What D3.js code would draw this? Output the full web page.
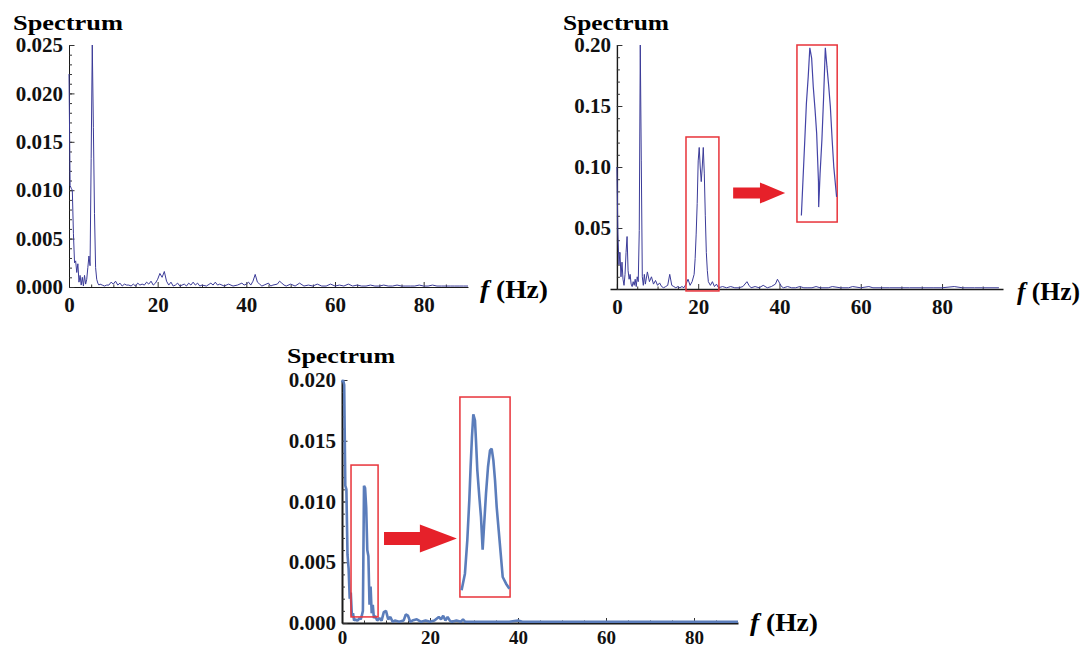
<!DOCTYPE html>
<html>
<head>
<meta charset="utf-8">
<script src="https://cdn.jsdelivr.net/npm/d3@7"></script>
<style>
  body { margin: 0; background: #fff; }
  text { font-family: "Liberation Serif", "Times New Roman", serif; font-weight: bold; }
</style>
</head>
<body>
<svg id="chart" width="1088" height="650"></svg>
<script>
// spectrum 1 : [f (Hz), amplitude]
var spec1 = [[0,0.0220],[0.25,0.0105],[0.5,0.0102],[0.75,0.0100],[1,0.0055],[1.25,0.0025],[1.5,0.0027],[1.75,0.0015],
  [2,0.0024],[2.25,0.0005],[2.5,0.0012],[2.75,0.0002],[3,0.0010],[3.25,0.0001],[3.5,0.0012],[3.75,0.0003],[4,0.0008],
  [4.25,0.0020],[4.5,0.0032],[4.75,0.0022],[5,0.0133],[5.25,0.0250],[5.5,0.0165],[5.75,0.0076],[6,0.0020],[6.25,0.0008],
  [6.5,0.0004],[6.75,0.0002],[7,0.0003],[7.5,0.0002],[8,0.0001],[8.5,0.0002],[9,0.0002],[9.5,0.0005],[10,0.0003],
  [10.5,0.0006],[11,0.0002],[11.5,0.0004],[12,0.0001],[12.5,0.0003],[13,0.0002],[13.5,0.0002],[14,0.0001],[14.5,0.0003],
  [15,0.0001],[15.5,0.0004],[16,0.0002],[16.5,0.0003],[17,0.0002],[17.5,0.0005],[18,0.0003],[18.5,0.0006],[19,0.0002],
  [19.5,0.0004],[20,0.0008],[20.5,0.0014],[21,0.0010],[21.5,0.0016],[22,0.0006],[22.5,0.0002],[23,0.0005],[23.5,0.0001],
  [24,0.0002],[24.5,0.0004],[25,0.0001],[25.5,0.0002],[26,0.0003],[26.5,0.0001],[27,0.0004],[27.5,0.0002],[28,0.0005],
  [28.5,0.0002],[29,0.0004],[29.5,0.0001],[30,0.0002],[31,0.0001],[32,0.0004],[32.5,0.0002],[33,0.0005],[33.5,0.0002],
  [34,0.0003],[35,0.0001],[36,0.0003],[37,0.0001],[38,0.0002],[39,0.0004],[39.5,0.0002],[40,0.0003],[40.5,0.0005],
  [41,0.0002],[41.5,0.0006],[42,0.0013],[42.5,0.0005],[43,0.0003],[43.5,0.0001],[44,0.0002],[45,0.0004],[45.5,0.0001],
  [46,0.0002],[47,0.0003],[47.5,0.0006],[48,0.0004],[48.5,0.0002],[49,0.0001],[50,0.0003],[51,0.0001],[52,0.0004],
  [53,0.0001],[54,0.0002],[55,0.0001],[56,0.0003],[57,0.0001],[58,0.0001],[59,0.0003],[60,0.0001],[61,0.0002],[62,0.0001],
  [63,0.0003],[64,0.0001],[65,0.0002],[66,0.0001],[67,0.0001],[68,0.0002],[69,0.0001],[70,0.0001],[71,0.0002],[72,0.0001],
  [73,0.0001],[74,0.0002],[75,0.0001],[76,0.0001],[77,0.0001],[78,0.0001],[79,0.0002],[80,0.0001],[81,0.0001],[82,0.0002],
  [83,0.0001],[84,0.0001],[85,0.0001],[86,0.0001],[87,0.0001],[88,0.0001],[89,0.0001],[90,0.0001]];

// spectrum 2
var spec2 = [[0,0.100],[0.25,0.045],[0.5,0.020],[0.75,0.030],[1,0.010],[1.25,0.022],[1.5,0.008],[1.75,0.003],[2,0.012],
  [2.25,0.030],[2.5,0.043],[2.75,0.015],[3,0.008],[3.25,0.012],[3.5,0.004],[3.75,0.002],[4,0.006],[4.25,0.003],[4.5,0.008],
  [4.75,0.002],[5,0.010],[5.25,0.006],[5.5,0.048],[5.75,0.200],[6,0.105],[6.25,0.010],[6.5,0.003],[6.75,0.012],[7,0.004],
  [7.25,0.009],[7.5,0.014],[8,0.006],[8.5,0.010],[9,0.004],[9.5,0.007],[10,0.003],[10.5,0.005],[11,0.002],[11.5,0.001],
  [12,0.002],[12.5,0.003],[13,0.012],[13.5,0.003],[14,0.002],[14.5,0.001],[15,0.002],[15.5,0.001],[16,0.002],[16.5,0.001],
  [17,0.004],[17.5,0.008],[18,0.003],[18.5,0.006],[19,0.012],[19.25,0.025],[19.5,0.045],[19.75,0.070],[20,0.105],
  [20.25,0.116],[20.5,0.100],[20.75,0.088],[21,0.100],[21.25,0.116],[21.5,0.095],[21.75,0.060],[22,0.030],[22.25,0.015],
  [22.5,0.006],[23,0.003],[23.5,0.006],[24,0.002],[24.5,0.004],[25,0.001],[26,0.002],[27,0.001],[28,0.002],[29,0.001],
  [30,0.001],[31,0.002],[32,0.006],[32.5,0.003],[33,0.001],[34,0.002],[35,0.001],[36,0.003],[37,0.001],[38,0.002],
  [39,0.004],[39.5,0.008],[40,0.005],[40.5,0.002],[41,0.001],[42,0.002],[43,0.001],[44,0.001],[45,0.002],[46,0.001],
  [47,0.001],[48,0.001],[49,0.002],[50,0.001],[52,0.001],[53,0.002],[55,0.001],[57,0.001],[58,0.002],[60,0.001],
  [62,0.002],[63,0.001],[65,0.001],[67,0.001],[70,0.001],[72,0.001],[75,0.001],[78,0.001],[80,0.001],[83,0.002],
  [85,0.001],[88,0.001],[90,0.001],[94,0.001]];

// spectrum 3
var spec3 = [[0,0.0198],[0.25,0.0200],[0.5,0.0196],[0.75,0.0113],[1,0.0110],[1.25,0.0056],[1.5,0.0045],[1.75,0.0020],
  [2,0.0025],[2.25,0.0006],[2.5,0.0008],[2.75,0.0002],[3,0.0003],[3.5,0.0002],[4,0.0004],[4.25,0.0003],[4.5,0.0006],
  [4.75,0.0010],[5,0.0113],[5.25,0.0111],[5.5,0.0095],[5.75,0.0060],[6,0.0055],[6.25,0.0015],[6.5,0.0030],[6.75,0.0008],
  [7,0.0015],[7.25,0.0004],[7.5,0.0006],[8,0.0002],[8.5,0.0004],[9,0.0002],[9.5,0.0009],[10,0.0010],[10.5,0.0003],
  [11,0.0005],[11.5,0.0001],[12,0.0002],[13,0.0001],[14,0.0002],[14.5,0.0007],[15,0.0006],[15.5,0.0001],[16,0.0002],
  [17,0.0003],[18,0.0001],[19,0.0002],[20,0.0001],[21,0.0002],[22,0.0005],[22.5,0.0003],[23,0.0006],[23.5,0.0002],
  [24,0.0005],[24.5,0.0002],[25,0.0001],[26,0.0002],[27,0.0001],[27.5,0.0003],[28,0.0001],[30,0.0001],[32,0.0001],
  [35,0.0001],[38,0.0001],[40,0.0002],[41,0.0001],[45,0.0001],[50,0.0001],[55,0.0001],[60,0.0001],[65,0.0001],
  [70,0.0001],[75,0.0001],[80,0.0001],[85,0.0001],[90,0.0001]];

// magnified peaks shown in the insets
var zoom2F = [20.12,20.29,20.37,20.46,20.54,20.63,20.71,20.80,20.88,20.97,20.98,21.05,21.14,21.22,21.31,21.39,21.48,21.56,21.65,21.73,21.87];
var zoom2V = [0.0814,0.0976,0.1055,0.1112,0.1174,0.1152,0.1091,0.1041,0.0990,0.0886,0.0832,0.0904,0.0976,0.1062,0.1174,0.1134,0.1091,0.1048,0.0976,0.0919,0.0854];
var zoom3F = [4.733,4.80,4.847,4.887,4.913,4.94,4.967,5.00,5.02,5.047,5.087,5.12,5.153,5.18,5.22,5.26,5.30,5.333,5.367,5.40,5.433,5.473,5.513,5.553,5.62,5.687];
var zoom3V = [0.00136,0.00226,0.00406,0.00622,0.00802,0.00964,0.01086,0.01054,0.00946,0.00784,0.0064,0.00532,0.00356,0.00478,0.00658,0.00802,0.00892,0.00901,0.00838,0.0073,0.00586,0.0046,0.00334,0.00208,0.00172,0.00145];

// tick values
var xTicks = [0, 20, 40, 60, 80];
var yTicks1 = [0, 0.005, 0.010, 0.015, 0.020, 0.025];
var yTicks2 = [0.05, 0.10, 0.15, 0.20];
var yTicks3 = [0, 0.005, 0.010, 0.015, 0.020];

var svg = d3.select("#chart");

var panels = [
  { data: spec1, xDomain: [0, 90], xRange: [69, 468], yDomain: [0, 0.025], yRange: [287, 45],
    yTicks: yTicks1, yMinorStep: 0.001, yFmt: ".3f", color: "#3b3b98", lw: 1, axisW: 1,
    title: [13, 30], titleW: 110, unit: [480, 298], unitW: 68, xPad: 10, xFont: 21 },
  { data: spec2, xDomain: [-1.7, 95], xRange: [610, 1003], yDomain: [0, 0.2], yRange: [289, 45],
    yTicks: yTicks2, yMinorStep: 0.01, yFmt: ".2f", color: "#3b3b98", lw: 1, axisW: 1.4,
    title: [563, 30], titleW: 106, unit: [1017, 300], unitW: 63, xPad: 10, xFont: 21,
    inset: { small: [17.0, 25.1, -0.0016, 0.1246], big: [44.3, 54.2, 0.0549, 0.2],
             arrow: [28.6, 35.2, 41.4, 0.0787, 5.5, 10.5],
             f: zoom2F, v: zoom2V, fDom: [19.9, 21.9], vDom: [0.080, 0.118], lw: 1.2, color: "#4444a6" } },
  { data: spec3, xDomain: [0, 90], xRange: [342, 738], yDomain: [0, 0.02], yRange: [623, 380],
    yTicks: yTicks3, yMinorStep: 0.001, yFmt: ".3f", color: "#5b7dbb", lw: 2.6, axisW: 2,
    title: [287, 363], titleW: 108, unit: [750, 631], unitW: 68, xPad: 8, xFont: 19,
    inset: { small: [2.05, 8.2, 0.0005, 0.0130], big: [26.8, 38.2, 0.00214, 0.0186],
             arrow: [9.55, 17.7, 26.1, 0.00695, 6.5, 14],
             f: zoom3F, v: zoom3V, fDom: [4.7, 5.7], vDom: [0.0010, 0.0118], lw: 2.6, color: "#5b7dbb" } }
];

panels.forEach(function(p) { drawPanel(p); });

function drawPanel(p) {
  var x = d3.scaleLinear().domain(p.xDomain).range(p.xRange);
  var y = d3.scaleLinear().domain(p.yDomain).range(p.yRange);
  var g = svg.append("g");

  var xMinor = d3.range(5, p.xDomain[1], 5).filter(function(d) { return d % 20 !== 0; });
  var yMinor = d3.range(0, p.yDomain[1] + 1e-9, p.yMinorStep);

  // x axis (ticks point inward)
  var xa = g.append("g").attr("transform", "translate(0," + y(0) + ")")
    .call(d3.axisBottom(x).tickValues(xTicks).tickSizeInner(-5).tickSizeOuter(0)
      .tickPadding(p.xPad).tickFormat(d3.format("d")));
  g.append("g").attr("transform", "translate(0," + y(0) + ")")
    .call(d3.axisBottom(x).tickValues(xMinor).tickSizeInner(-2.5).tickSizeOuter(0).tickFormat(""))
    .select(".domain").remove();

  // y axis
  var ya = g.append("g").attr("transform", "translate(" + x(0) + ",0)")
    .call(d3.axisLeft(y).tickValues(p.yTicks).tickSizeInner(-5.5).tickSizeOuter(0)
      .tickPadding(6).tickFormat(d3.format(p.yFmt)));
  g.append("g").attr("transform", "translate(" + x(0) + ",0)")
    .call(d3.axisLeft(y).tickValues(yMinor).tickSizeInner(-3).tickSizeOuter(0).tickFormat(""))
    .select(".domain").remove();

  g.selectAll(".domain").attr("stroke", "#1a1a1a").attr("stroke-width", p.axisW);
  g.selectAll(".tick line").attr("stroke", "#333");
  xa.attr("font-family", null).attr("font-size", p.xFont).selectAll("text").attr("fill", "#111");
  ya.attr("font-family", null).attr("font-size", 21).selectAll("text").attr("fill", "#111");

  // spectrum line
  var line = d3.line().x(function(d) { return x(d[0]); }).y(function(d) { return y(d[1]); });
  g.append("path").datum(p.data).attr("d", line)
    .attr("fill", "none").attr("stroke", p.color).attr("stroke-width", p.lw)
    .attr("stroke-linejoin", "bevel");

  // labels
  g.append("text").attr("x", p.title[0]).attr("y", p.title[1]).attr("font-size", 22)
    .attr("textLength", p.titleW).attr("lengthAdjust", "spacingAndGlyphs").text("Spectrum");
  var u = g.append("text").attr("x", p.unit[0]).attr("y", p.unit[1]).attr("font-size", 25)
    .attr("textLength", p.unitW).attr("lengthAdjust", "spacingAndGlyphs");
  u.append("tspan").attr("font-style", "italic").text("f");
  u.append("tspan").text(" (Hz)");

  if (p.inset) drawInset(g, p.inset, x, y);
}

function drawInset(g, s, x, y) {
  var red = "#e8333a";
  g.append("rect").attr("x", x(s.small[0])).attr("y", y(s.small[3]))
    .attr("width", x(s.small[1]) - x(s.small[0])).attr("height", y(s.small[2]) - y(s.small[3]))
    .attr("fill", "none").attr("stroke", red).attr("stroke-width", 1.5);

  var bx0 = x(s.big[0]), bx1 = x(s.big[1]), by0 = y(s.big[2]), by1 = y(s.big[3]);
  g.append("rect").attr("x", bx0).attr("y", by1).attr("width", bx1 - bx0).attr("height", by0 - by1)
    .attr("fill", "none").attr("stroke", red).attr("stroke-width", 1.5);

  // magnified peak
  var ix = d3.scaleLinear().domain(s.fDom).range([bx0, bx1]);
  var iy = d3.scaleLinear().domain(s.vDom).range([by0, by1]);
  var pts = s.f.map(function(f, i) { return [f, s.v[i]]; });
  g.append("path").datum(pts)
    .attr("d", d3.line().x(function(d) { return ix(d[0]); }).y(function(d) { return iy(d[1]); }))
    .attr("fill", "none").attr("stroke", s.color).attr("stroke-width", s.lw)
    .attr("stroke-linejoin", "bevel");

  // arrow
  var a = s.arrow, ax0 = x(a[0]), axh = x(a[1]), ax1 = x(a[2]), cy = y(a[3]);
  var sh = a[4], hh = a[5];
  var poly = [[ax0, cy - sh], [axh, cy - sh], [axh, cy - hh], [ax1, cy], [axh, cy + hh], [axh, cy + sh], [ax0, cy + sh]];
  g.append("path").attr("d", "M" + poly.join("L") + "Z").attr("fill", "#e6212a");
}
</script>
</body>
</html>
